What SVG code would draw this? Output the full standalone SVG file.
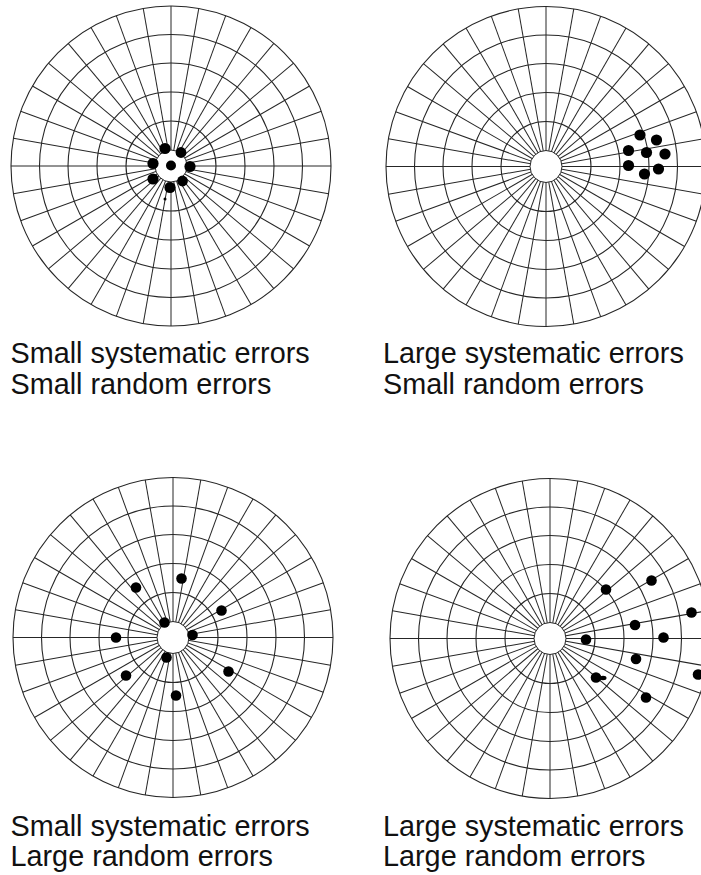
<svg xmlns="http://www.w3.org/2000/svg" xmlns:xlink="http://www.w3.org/1999/xlink" width="701" height="875" viewBox="0 0 701 875">
<style>
.sp{stroke:#262626;stroke-width:1;fill:none}
.rg{stroke:#262626;stroke-width:1.1;fill:none}
.hole{fill:#fff;stroke:#262626;stroke-width:1}
.dot{fill:#000}
.lbl{font-family:"Liberation Sans",Arial,Helvetica,sans-serif;font-size:28.8px;fill:#111}
</style>
<defs>
<g id="grid">
<line class="sp" x1="-160" y1="0" x2="160" y2="0"/>
<line class="sp" x1="-160" y1="0" x2="160" y2="0" transform="rotate(10)"/>
<line class="sp" x1="-160" y1="0" x2="160" y2="0" transform="rotate(20)"/>
<line class="sp" x1="-160" y1="0" x2="160" y2="0" transform="rotate(30)"/>
<line class="sp" x1="-160" y1="0" x2="160" y2="0" transform="rotate(40)"/>
<line class="sp" x1="-160" y1="0" x2="160" y2="0" transform="rotate(50)"/>
<line class="sp" x1="-160" y1="0" x2="160" y2="0" transform="rotate(60)"/>
<line class="sp" x1="-160" y1="0" x2="160" y2="0" transform="rotate(70)"/>
<line class="sp" x1="-160" y1="0" x2="160" y2="0" transform="rotate(80)"/>
<line class="sp" x1="-160" y1="0" x2="160" y2="0" transform="rotate(90)"/>
<line class="sp" x1="-160" y1="0" x2="160" y2="0" transform="rotate(100)"/>
<line class="sp" x1="-160" y1="0" x2="160" y2="0" transform="rotate(110)"/>
<line class="sp" x1="-160" y1="0" x2="160" y2="0" transform="rotate(120)"/>
<line class="sp" x1="-160" y1="0" x2="160" y2="0" transform="rotate(130)"/>
<line class="sp" x1="-160" y1="0" x2="160" y2="0" transform="rotate(140)"/>
<line class="sp" x1="-160" y1="0" x2="160" y2="0" transform="rotate(150)"/>
<line class="sp" x1="-160" y1="0" x2="160" y2="0" transform="rotate(160)"/>
<line class="sp" x1="-160" y1="0" x2="160" y2="0" transform="rotate(170)"/>
<circle class="rg" r="45"/>
<circle class="rg" r="74"/>
<circle class="rg" r="103"/>
<circle class="rg" r="131.5"/>
<circle class="rg" r="160"/>
<circle class="hole" r="16"/>
</g>
</defs>

<g id="target-small-small">
<use xlink:href="#grid" href="#grid" transform="translate(171,166)"/>
<circle class="dot" cx="171" cy="165.5" r="5"/>
<circle class="dot" cx="165" cy="148.5" r="5.6"/>
<circle class="dot" cx="181" cy="152.5" r="5.4"/>
<circle class="dot" cx="153" cy="163.5" r="5.6"/>
<circle class="dot" cx="190" cy="166.5" r="5.6"/>
<circle class="dot" cx="153" cy="179" r="5.6"/>
<circle class="dot" cx="182.5" cy="181" r="5.4"/>
<circle class="dot" cx="170" cy="187.5" r="5.6"/>
<circle class="dot" cx="165" cy="199" r="1.5"/>
<text class="lbl" x="10.5" y="363">Small systematic errors</text>
<text class="lbl" x="10.5" y="394">Small random errors</text>
</g>

<g id="target-large-small">
<use xlink:href="#grid" href="#grid" transform="translate(546,166.5)"/>
<circle class="dot" cx="640" cy="135" r="5.6"/>
<circle class="dot" cx="656.5" cy="140" r="5.6"/>
<circle class="dot" cx="628.5" cy="150.5" r="5.6"/>
<circle class="dot" cx="646.5" cy="152.5" r="5.6"/>
<circle class="dot" cx="665" cy="154" r="5.6"/>
<circle class="dot" cx="628.5" cy="165.5" r="5.6"/>
<circle class="dot" cx="658.5" cy="169" r="5.6"/>
<circle class="dot" cx="644.5" cy="174" r="5.6"/>
<text class="lbl" x="383" y="363">Large systematic errors</text>
<text class="lbl" x="383" y="394">Small random errors</text>
</g>

<g id="target-small-large">
<use xlink:href="#grid" href="#grid" transform="translate(173,637.5)"/>
<circle class="dot" cx="181.5" cy="578.5" r="5.3"/>
<circle class="dot" cx="136" cy="587.5" r="5.3"/>
<circle class="dot" cx="221.5" cy="610.5" r="5.3"/>
<circle class="dot" cx="164.5" cy="622.5" r="5.3"/>
<circle class="dot" cx="192.5" cy="635" r="5.3"/>
<circle class="dot" cx="116" cy="637.5" r="5.3"/>
<circle class="dot" cx="166.5" cy="657.5" r="5.3"/>
<circle class="dot" cx="126" cy="675.5" r="5.3"/>
<circle class="dot" cx="228.5" cy="671.5" r="5.3"/>
<circle class="dot" cx="176" cy="695.5" r="5.3"/>
<text class="lbl" x="10.5" y="836">Small systematic errors</text>
<text class="lbl" x="10.5" y="866">Large random errors</text>
</g>

<g id="target-large-large">
<use xlink:href="#grid" href="#grid" transform="translate(550,638.5)"/>
<circle class="dot" cx="651.5" cy="580.5" r="5.3"/>
<circle class="dot" cx="606" cy="589.5" r="5.3"/>
<circle class="dot" cx="691.5" cy="612.5" r="5.3"/>
<circle class="dot" cx="635" cy="625" r="5.3"/>
<circle class="dot" cx="586" cy="639.5" r="5.3"/>
<circle class="dot" cx="663.5" cy="637.5" r="5.3"/>
<circle class="dot" cx="636" cy="659" r="5.3"/>
<circle class="dot" cx="698" cy="674.5" r="5.3"/>
<circle class="dot" cx="596" cy="677.5" r="5.3"/>
<ellipse class="dot" cx="603" cy="678" rx="3.5" ry="2.2"/>
<circle class="dot" cx="646" cy="697.5" r="5.3"/>
<text class="lbl" x="383" y="836">Large systematic errors</text>
<text class="lbl" x="383" y="866">Large random errors</text>
</g>
</svg>
